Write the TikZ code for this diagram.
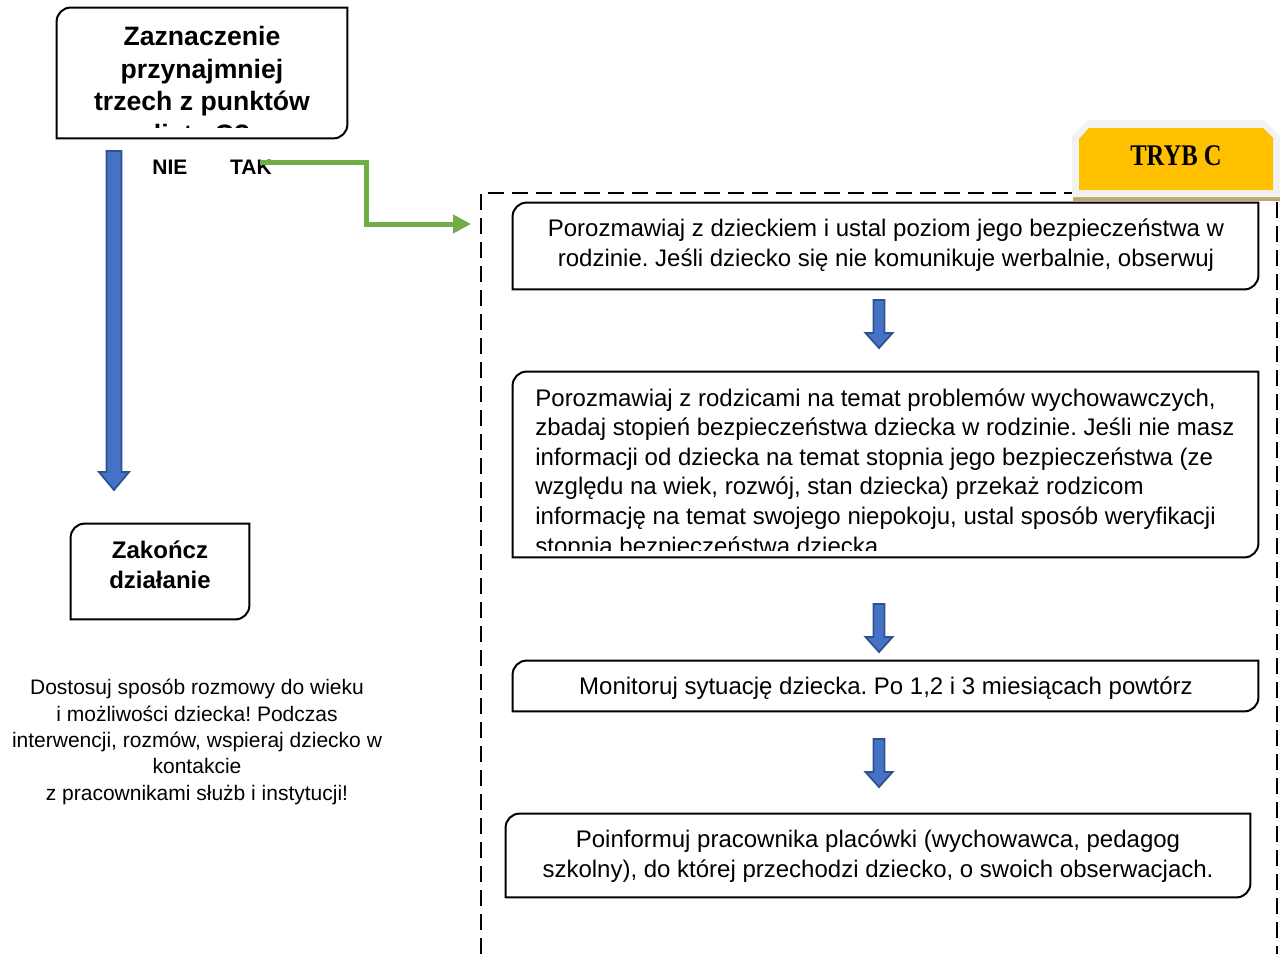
\documentclass[tikz,border=0pt]{standalone}
\usepackage{fontspec}
\setmainfont{Liberation Sans}
\newfontfamily\tagfont{Liberation Serif}
\usetikzlibrary{calc,arrows.meta}
\frenchspacing

\definecolor{fatblue}{HTML}{4472C4}
\definecolor{fatedge}{HTML}{2F528F}
\definecolor{yesgreen}{HTML}{70AD47}
\definecolor{tagyellow}{HTML}{FFC000}
\definecolor{taggray}{HTML}{F2F2F2}
\definecolor{tagshadow}{HTML}{BFA971}

\tikzset{
  frame/.style={draw=none, inner sep=0pt},
  boxline/.style={draw=black, line width=1pt},
  steptext/.style={inner sep=0pt, align=center, font=\fontsize{12}{14.8}\selectfont},
  headtext/.style={inner sep=0pt, align=center, font=\fontsize{13.3}{16.3}\selectfont\bfseries},
  yesno/.style={inner sep=0pt, font=\fontsize{10.5}{12}\selectfont\bfseries},
  yesline/.style={draw=yesgreen, line width=2.5pt, -{Triangle[length=9pt,width=9pt]}},
  dashline/.style={draw=black, line width=0.9pt, dash pattern=on 8pt off 4pt},
  fatshape/.style={fill=fatblue, draw=fatedge, line width=0.9pt}
}

% frame with rounded top left and bottom right corners
\newcommand{\roundframe}[1]{%
  \draw[boxline] (#1.south west) -- ([yshift=-7pt]#1.north west)
    arc[start angle=180, end angle=90, radius=7pt] -- (#1.north east)
    -- ([yshift=7pt]#1.south east)
    arc[start angle=0, end angle=-90, radius=7pt] -- cycle;}

% wide arrow: start, tip, half shaft, half head, head length
\newcommand{\fatdown}[5]{%
  \draw[fatshape] ($(#1)+(-#3,0)$) -- ($(#2)+(-#3,-#5)$) -- ($(#2)+(-#4,-#5)$)
    -- (#2) -- ($(#2)+(#4,-#5)$) -- ($(#2)+(#3,-#5)$) -- ($(#1)+(#3,0)$) -- cycle;}

\begin{document}
\begin{tikzpicture}[x=0.5pt, y=-0.5pt]
  \useasboundingbox (0,0) rectangle (1280,954);

  % left part
  \node[frame, minimum width=145pt, minimum height=65pt] (q) at (202,73) {};
  \begin{scope}
    \clip (57,8) rectangle (347,127);
    \node[headtext, anchor=north] (qt) at (202,26) {Zaznaczenie\\przynajmniej\\trzech z punktów\\listy C?};
  \end{scope}
  \roundframe{q}

  \node[yesno] (nie) at (170,167) {NIE};
  \node[yesno] (tak) at (251,167) {TAK};

  \coordinate (nietop) at (114,151);
  \coordinate (nietip) at (114,490);
  \fatdown{nietop}{nietip}{7.5}{15}{18}

  \node[frame, minimum width=89pt, minimum height=47.5pt] (end) at (160,571.5) {};
  \node[headtext, font=\fontsize{12}{15}\selectfont\bfseries] (endt) at (160,565) {Zakończ\\działanie};
  \roundframe{end}

  \node[inner sep=0pt, align=center, font=\fontsize{10.5}{13.2}\selectfont] (hint) at (197,742)
    {Dostosuj sposób rozmowy do wieku\\i możliwości dziecka! Podczas\\interwencji, rozmów, wspieraj dziecko w\\kontakcie\\z pracownikami służb i instytucji!};

  % green connector to mode C
  \coordinate (gin) at (471,224);
  \draw[yesline] ([xshift=-6pt,yshift=2.5pt]tak.east) -- (366,162) |- (gin);

  % dashed frame
  \draw[dashline] (481,954) -- (481,193) -- (1072,193);
  \draw[dashline] (1277,202) -- (1277,954);

  % tag
  \fill[tagshadow] (1073,196) rectangle (1280,201);
  \fill[taggray] (1072,197) -- (1072,136) -- (1088,120) -- (1264,120) -- (1280,136) -- (1280,197) -- cycle;
  \fill[tagyellow] (1079,190) -- (1079,139) -- (1089,128) -- (1263,128) -- (1273,138) -- (1273,190) -- cycle;
  \node[inner sep=0pt, font=\tagfont\fontsize{15}{15}\selectfont\bfseries, xscale=0.82] (tryb) at (1176,156) {TRYB C};

  % steps
  \node[frame, minimum width=372.5pt, minimum height=43pt] (s1) at (885.5,246) {};
  \node[steptext] (s1t) at (886,245) {Porozmawiaj z dzieckiem i ustal poziom jego bezpieczeństwa w\\rodzinie. Jeśli dziecko się nie komunikuje werbalnie, obserwuj};
  \roundframe{s1}

  \coordinate (a1s) at (879,300);
  \coordinate (a1e) at (879,348);
  \fatdown{a1s}{a1e}{5.5}{13.5}{15}

  \node[frame, minimum width=372.5pt, minimum height=92.5pt] (s2) at (885.5,464.5) {};
  \begin{scope}
    \clip (513,372) rectangle (1258,550);
    \node[steptext, align=left, anchor=north west] (s2t) at (535,388) {Porozmawiaj z rodzicami na temat problemów wychowawczych,\\zbadaj stopień bezpieczeństwa dziecka w rodzinie. Jeśli nie masz\\informacji od dziecka na temat stopnia jego bezpieczeństwa (ze\\względu na wiek, rozwój, stan dziecka) przekaż rodzicom\\informację na temat swojego niepokoju, ustal sposób weryfikacji\\stopnia bezpieczeństwa dziecka.};
  \end{scope}
  \roundframe{s2}

  \coordinate (a2s) at (879,604);
  \coordinate (a2e) at (879,652);
  \fatdown{a2s}{a2e}{5.5}{13.5}{15}

  \node[frame, minimum width=372.5pt, minimum height=25pt] (s3) at (885.5,686) {};
  \node[steptext] (s3t) at (886,688) {Monitoruj sytuację dziecka. Po 1,2 i 3 miesiącach powtórz};
  \roundframe{s3}

  \coordinate (a3s) at (879,739);
  \coordinate (a3e) at (879,787);
  \fatdown{a3s}{a3e}{5.5}{13.5}{15}

  \node[frame, minimum width=372pt, minimum height=41.5pt] (s4) at (878,855.5) {};
  \node[steptext] (s4t) at (878,856) {Poinformuj pracownika placówki (wychowawca, pedagog\\szkolny), do której przechodzi dziecko, o swoich obserwacjach.};
  \roundframe{s4}
\end{tikzpicture}
\end{document}
